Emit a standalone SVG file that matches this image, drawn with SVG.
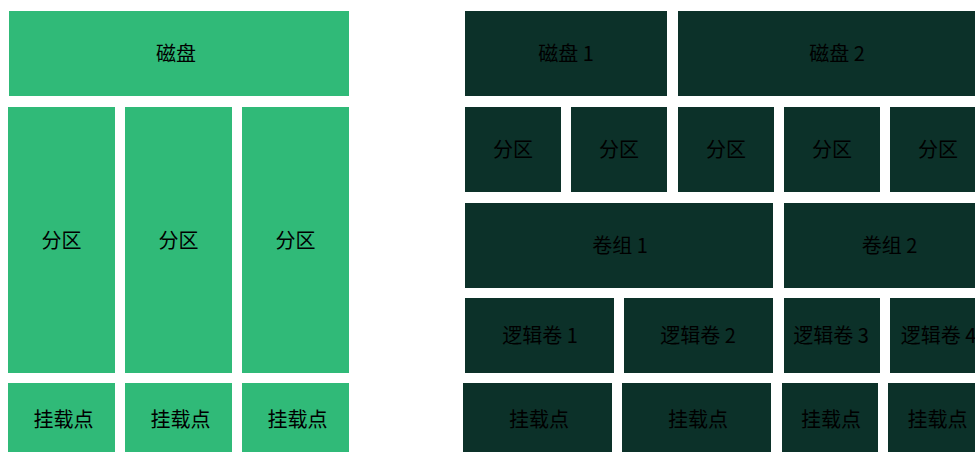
<svg xmlns="http://www.w3.org/2000/svg" width="975" height="452" viewBox="0 0 975 452">
<style>
.g{fill:#30BA78}
.d{fill:#0C3129}
text{font-family:"Noto Sans CJK SC","Noto Sans",sans-serif;font-size:20px;fill:#000;text-anchor:middle;dominant-baseline:central}
</style>
<rect width="975" height="452" fill="#fff"/>
<g id="left">
<g id="disk"><rect class="g" x="9" y="11" width="340" height="85"/><text x="176" y="52.5">磁盘</text></g>
<g id="lp1"><rect class="g" x="8" y="107" width="107" height="266"/><text x="61.5" y="239">分区</text></g>
<g id="lp2"><rect class="g" x="125" y="107" width="107" height="266"/><text x="178.5" y="239">分区</text></g>
<g id="lp3"><rect class="g" x="242" y="107" width="107" height="266"/><text x="295.5" y="239">分区</text></g>
<g id="lm1"><rect class="g" x="8" y="383" width="107" height="73"/><text x="63.5" y="418.5">挂载点</text></g>
<g id="lm2"><rect class="g" x="125" y="383" width="107" height="73"/><text x="180.5" y="418.5">挂载点</text></g>
<g id="lm3"><rect class="g" x="242" y="383" width="107" height="73"/><text x="297.5" y="418.5">挂载点</text></g>
</g>
<g id="right">
<g id="disk1"><rect class="d" x="465" y="11" width="202" height="85"/><text x="566" y="52.5">磁盘 1</text></g>
<g id="disk2"><rect class="d" x="678" y="11" width="318" height="85"/><text x="837" y="52.5">磁盘 2</text></g>
<g id="rp1"><rect class="d" x="465" y="107" width="96" height="85"/><text x="513" y="148.5">分区</text></g>
<g id="rp2"><rect class="d" x="571" y="107" width="96" height="85"/><text x="619" y="148.5">分区</text></g>
<g id="rp3"><rect class="d" x="678" y="107" width="96" height="85"/><text x="726" y="148.5">分区</text></g>
<g id="rp4"><rect class="d" x="784" y="107" width="96" height="85"/><text x="832" y="148.5">分区</text></g>
<g id="rp5"><rect class="d" x="890" y="107" width="96" height="85"/><text x="938" y="148.5">分区</text></g>
<g id="vg1"><rect class="d" x="465" y="203" width="308" height="85"/><text x="620" y="244">卷组 1</text></g>
<g id="vg2"><rect class="d" x="784" y="203" width="211" height="85"/><text x="889.5" y="244">卷组 2</text></g>
<g id="lv1"><rect class="d" x="465" y="298" width="149" height="75"/><text x="540" y="334">逻辑卷 1</text></g>
<g id="lv2"><rect class="d" x="624" y="298" width="149" height="75"/><text x="698" y="334">逻辑卷 2</text></g>
<g id="lv3"><rect class="d" x="784" y="298" width="96" height="75"/><text x="831" y="334">逻辑卷 3</text></g>
<g id="lv4"><rect class="d" x="890" y="298" width="96" height="75"/><text x="938.5" y="334">逻辑卷 4</text></g>
<g id="rm1"><rect class="d" x="463" y="383" width="149" height="73"/><text x="539" y="418.5">挂载点</text></g>
<g id="rm2"><rect class="d" x="622" y="383" width="149" height="73"/><text x="698" y="418.5">挂载点</text></g>
<g id="rm3"><rect class="d" x="782" y="383" width="96" height="73"/><text x="831" y="418.5">挂载点</text></g>
<g id="rm4"><rect class="d" x="888" y="383" width="96" height="73"/><text x="937.5" y="418.5">挂载点</text></g>
</g>
<g id="connectors"/>
</svg>
